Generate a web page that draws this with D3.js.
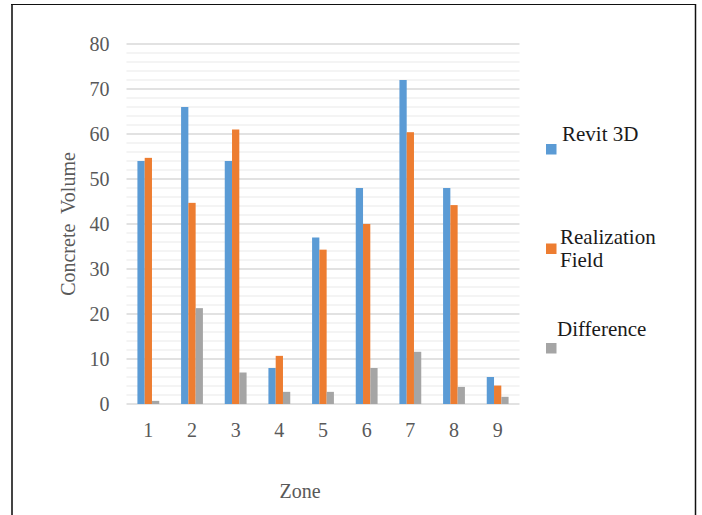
<!DOCTYPE html>
<html>
<head>
<meta charset="utf-8">
<script src="https://cdn.jsdelivr.net/npm/d3@7"></script>
<style>
  html, body { margin: 0; padding: 0; background: #fff; }
  svg { display: block; }
  text, tspan { font-family: "Liberation Serif", "Times New Roman", serif; }
</style>
</head>
<body>
<svg id="chart" width="702" height="515"></svg>
<script>
// Concrete volume per zone: modelled (Revit 3D) vs. realized in the field
const zones = ["1", "2", "3", "4", "5", "6", "7", "8", "9"];
const revit3D = [54, 66, 54, 8, 37, 48, 72, 48, 6];
const realizationField = [54.7, 44.7, 61, 10.7, 34.3, 40, 60.4, 44.2, 4.1];
const difference = [0.7, 21.3, 7, 2.7, 2.7, 8, 11.6, 3.8, 1.6];
const seriesNames = ["Revit 3D", "Realization Field", "Difference"];
const yTicks = [0, 10, 20, 30, 40, 50, 60, 70, 80];

const colors = ["#5B9BD5", "#ED7D31", "#A5A5A5"];
const series = [revit3D, realizationField, difference];

const svg = d3.select("#chart");
const serif = "Liberation Serif, Times New Roman, serif";

// frame around the figure
svg.append("line").attr("x1", 12).attr("x2", 12).attr("y1", 4).attr("y2", 515)
  .attr("stroke", "#444").attr("stroke-width", 2);
svg.append("line").attr("x1", 11).attr("x2", 696).attr("y1", 4.5).attr("y2", 4.5)
  .attr("stroke", "#111").attr("stroke-width", 1.2);
svg.append("line").attr("x1", 695.5).attr("x2", 695.5).attr("y1", 4).attr("y2", 515)
  .attr("stroke", "#111").attr("stroke-width", 1.5);

const plot = { left: 126.5, right: 519.5, top: 44, bottom: 404 };

const x = d3.scaleBand().domain(zones).range([plot.left, plot.right]).paddingInner(0).paddingOuter(0);
const y = d3.scaleLinear().domain([0, 80]).range([plot.bottom, plot.top]);

// minor gridlines every 2 units
const minor = d3.range(2, 80, 2).filter(v => v % 10 !== 0);
svg.append("g").selectAll("line").data(minor).join("line")
  .attr("x1", plot.left).attr("x2", plot.right)
  .attr("y1", d => y(d)).attr("y2", d => y(d))
  .attr("stroke", "#f0f0f0").attr("stroke-width", 1.5);

// major gridlines
svg.append("g").selectAll("line").data(yTicks).join("line")
  .attr("x1", plot.left).attr("x2", plot.right)
  .attr("y1", d => y(d)).attr("y2", d => y(d))
  .attr("stroke", "#d9d9d9").attr("stroke-width", 1.5);

// y axis labels
const yAxis = d3.axisLeft(y).tickValues(yTicks).tickSize(0).tickPadding(0);
const yg = svg.append("g").attr("transform", `translate(${plot.left - 17},0)`).call(yAxis);
yg.select(".domain").remove();
yg.selectAll("text").attr("font-size", 20).attr("fill", "#595959")
  .style("font-family", serif).attr("dy", "0.34em");

// x axis labels
const xAxis = d3.axisBottom(x).tickSize(0).tickPadding(0);
const xg = svg.append("g").attr("transform", `translate(0,${plot.bottom + 17})`).call(xAxis);
xg.select(".domain").remove();
xg.selectAll("text").attr("font-size", 20).attr("fill", "#595959")
  .style("font-family", serif).attr("dy", "0.8em");

// clustered bars: group occupies half of each band
const inner = d3.scaleBand().domain(d3.range(3)).range([0, x.bandwidth() / 2]);
const groups = svg.append("g").selectAll("g").data(zones).join("g")
  .attr("transform", d => `translate(${x(d) + x.bandwidth() / 4},0)`);
groups.selectAll("rect").data((z, i) => series.map((s, k) => ({ k, v: s[i] }))).join("rect")
  .attr("x", d => inner(d.k))
  .attr("width", inner.bandwidth())
  .attr("y", d => y(d.v))
  .attr("height", d => y(0) - y(d.v))
  .attr("fill", d => colors[d.k]);

// axis titles
svg.append("text").attr("transform", "translate(75,224) rotate(-90)")
  .attr("text-anchor", "middle").attr("font-size", 20).attr("fill", "#595959")
  .style("font-family", serif).style("white-space", "pre").text("Concrete  Volume");
svg.append("text").attr("x", 300).attr("y", 498)
  .attr("text-anchor", "middle").attr("font-size", 20).attr("fill", "#595959")
  .style("font-family", serif).text("Zone");

// legend
const legend = [
  { name: "Revit 3D", lines: ["Revit 3D"], tx: 562, ty: 140.5, sy: 144 },
  { name: "Realization Field", lines: ["Realization", "Field"], tx: 560, ty: 244, sy: 243.5 },
  { name: "Difference", lines: ["Difference"], tx: 557, ty: 336, sy: 343 }
];
const lg = svg.append("g").selectAll("g").data(legend).join("g");
lg.append("rect").attr("x", 546).attr("y", d => d.sy).attr("width", 10.5).attr("height", 10.5)
  .attr("fill", d => colors[seriesNames.indexOf(d.name)]);
lg.append("text").attr("font-size", 21).attr("fill", "#1a1a1a")
  .style("font-family", serif)
  .attr("x", d => d.tx).attr("y", d => d.ty)
  .selectAll("tspan").data(d => d.lines.map(l => ({ l, tx: d.tx }))).join("tspan")
  .attr("x", d => d.tx).attr("dy", (d, i) => i === 0 ? 0 : 23).text(d => d.l);
</script>
</body>
</html>
